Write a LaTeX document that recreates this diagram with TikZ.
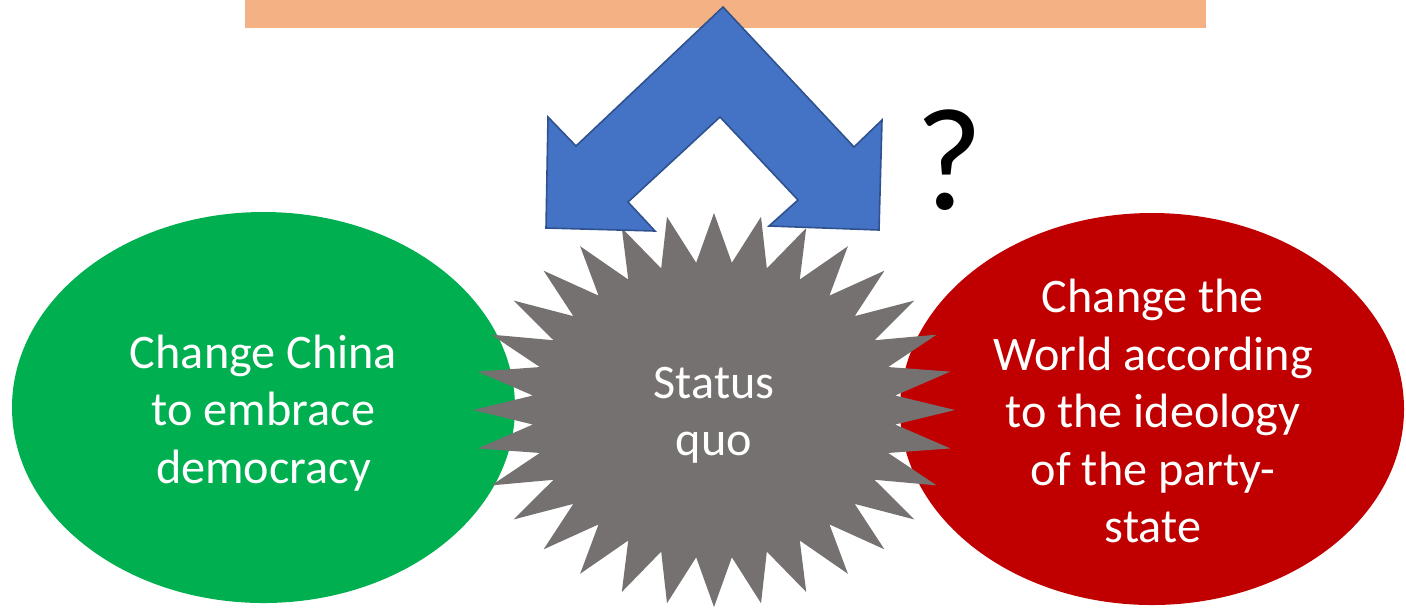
\documentclass[tikz,border=0pt]{standalone}
\usepackage{fontspec}
\setmainfont{Carlito}
\definecolor{barorange}{HTML}{F4B183}
\definecolor{arrowblue}{HTML}{4472C4}
\definecolor{arrowedge}{HTML}{2F528F}
\definecolor{chinagreen}{HTML}{00B050}
\definecolor{worldred}{HTML}{C00000}
\definecolor{quogrey}{HTML}{767171}
\begin{document}
\begin{tikzpicture}[x=0.5pt,y=-0.5pt,
  label/.style={text=white, align=center, inner sep=0pt,
                font=\fontsize{24.1}{28.75}\selectfont},
  turnarrow/.style={fill=arrowblue, draw=arrowedge, line width=0.8pt, line join=miter}]
\useasboundingbox (0,0) rectangle (1406,607);

% top bar
\fill[barorange] (245,0) rectangle (1206,28);

% the two goals
\fill[chinagreen] (263.5,407.5) ellipse [x radius=251.5, y radius=195.5];
\fill[worldred] (1152,409) ellipse [x radius=252, y radius=196];

% starburst: 32 spikes on an elliptical outline
\fill[quogrey] (955,410)
  \foreach \k in {0,...,31} {
    -- ({714+182*cos(\k*11.25+5.625)},{410+148*sin(\k*11.25+5.625)})
    -- ({714+241*cos((\k+1)*11.25)},{410+197*sin((\k+1)*11.25)})
  } -- cycle;

% double-headed bent arrow
\draw[turnarrow] (723,7) -- (854,147) -- (882,120) -- (879,230) -- (769,226)
  -- (798,200) -- (720,117) -- (628,202) -- (655,231) -- (546,228)
  -- (548,117) -- (576,146) -- cycle;

% texts
\node[label] (china) at (263.5,413) {Change China\\to embrace\\democracy};
\node[label] (status) at (714,415) {Status\\quo};
\node[label] (world) at (1153,411) {Change the\\World according\\to the ideology\\of the party-\\state};
\node[inner sep=0pt, font=\fontsize{73}{80}\selectfont] (query) at (949,160) {?};
\end{tikzpicture}
\end{document}
